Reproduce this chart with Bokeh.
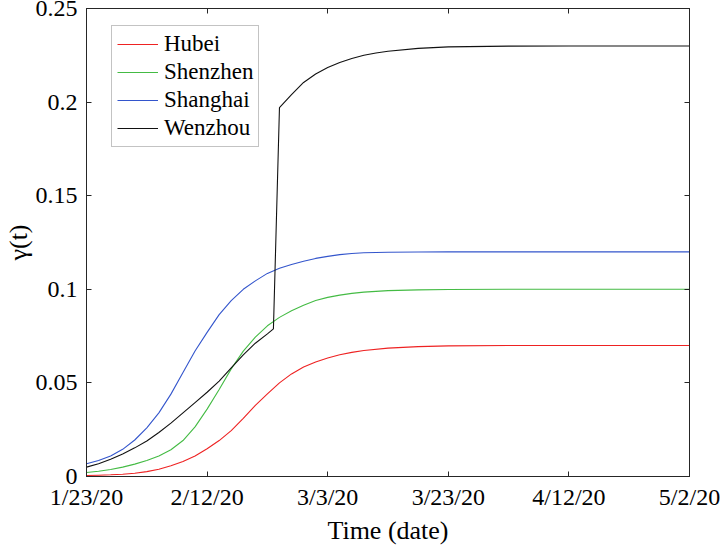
from bokeh.plotting import figure
from bokeh.models import LinearAxis, FixedTicker, Range1d
from bokeh.embed import file_html
from bokeh.resources import INLINE

# ---- data (days since 1/23/20) ----
days = [0, 2, 4, 6, 8, 10, 12, 14, 16, 18, 20, 22, 24, 26, 28, 30, 32, 34, 36,
        38, 40, 42, 44, 46, 50, 55, 60, 70, 80, 90, 100]
hubei = [0.0005, 0.0007, 0.0009, 0.0012, 0.0017, 0.0026, 0.0039, 0.0057, 0.0080,
         0.0110, 0.0148, 0.0192, 0.0245, 0.0310, 0.0380, 0.0441, 0.0500, 0.0548,
         0.0585, 0.0612, 0.0633, 0.0650, 0.0663, 0.0673, 0.0686, 0.0694, 0.0698,
         0.0700, 0.0700, 0.0700, 0.0700]
shenzhen = [0.0021, 0.0028, 0.0037, 0.0050, 0.0066, 0.0085, 0.0110, 0.0143, 0.0192,
            0.0265, 0.0360, 0.0465, 0.0575, 0.0670, 0.0745, 0.0805, 0.0850, 0.0885,
            0.0915, 0.0940, 0.0957, 0.0969, 0.0978, 0.0985, 0.0993, 0.0997, 0.0999,
            0.1000, 0.1000, 0.1000, 0.1000]
shanghai = [0.0068, 0.0085, 0.0110, 0.0145, 0.0195, 0.0260, 0.0340, 0.0440, 0.0555,
            0.0670, 0.0770, 0.0865, 0.0940, 0.1000, 0.1045, 0.1085, 0.1112, 0.1132,
            0.1150, 0.1165, 0.1176, 0.1185, 0.1191, 0.1195, 0.1198, 0.1199, 0.1200,
            0.1200, 0.1200, 0.1200, 0.1200]
wz_days = [0, 2, 4, 6, 8, 10, 12, 14, 16, 18, 20, 22, 24, 26, 28, 30, 31, 32, 34,
           36, 38, 40, 42, 44, 46, 48, 50, 55, 60, 70, 80, 90, 100]
wenzhou = [0.0050, 0.0068, 0.0092, 0.0120, 0.0153, 0.0190, 0.0235, 0.0285, 0.0340,
           0.0395, 0.0450, 0.0510, 0.0580, 0.0650, 0.0712, 0.0762, 0.0789, 0.1970,
           0.2040, 0.2105, 0.2150, 0.2185, 0.2212, 0.2233, 0.2250, 0.2262, 0.2272,
           0.2287, 0.2295, 0.2299, 0.2300, 0.2300, 0.2300]

x_ticks = [0, 20, 40, 60, 80, 100]
x_tick_labels = ["1/23/20", "2/12/20", "3/3/20", "3/23/20", "4/12/20", "5/2/20"]
y_ticks = [0, 0.05, 0.1, 0.15, 0.2, 0.25]
y_tick_labels = ["0", "0.05", "0.1", "0.15", "0.2", "0.25"]
x_title = "Time (date)"
y_title = "γ(t)"

FONT = "Liberation Serif"
AX = "#262626"

p = figure(frame_width=603, frame_height=468, output_backend="svg",
           toolbar_location=None,
           x_range=Range1d(0, 100), y_range=Range1d(0, 0.25),
           min_border_left=77, min_border_right=32, min_border_top=8,
           min_border_bottom=65)
p.xgrid.visible = False
p.ygrid.visible = False
p.outline_line_color = AX
p.background_fill_color = "white"
p.border_fill_color = "white"


def style(ax, ticks, labels=None):
    ax.ticker = FixedTicker(ticks=ticks)
    ax.axis_line_color = AX
    ax.major_tick_line_color = AX
    ax.major_tick_in = 5
    ax.major_tick_out = 0
    ax.minor_tick_line_color = None
    if labels is None:
        ax.major_label_text_font_size = "1px"
        ax.major_label_text_color = None
        ax.major_label_standoff = 0
    else:
        ax.major_label_overrides = {t: l for t, l in zip(ticks, labels)}
        ax.major_label_text_font = FONT
        ax.major_label_text_font_size = "24px"
        ax.major_label_text_color = "black"
        ax.axis_label_text_font = FONT
        ax.axis_label_text_font_size = "26px"
        ax.axis_label_text_font_style = "normal"
        ax.axis_label_text_color = "black"


xa = p.xaxis[0]
style(xa, x_ticks, x_tick_labels)
xa.axis_label = x_title
xa.major_label_standoff = 7
xa.axis_label_standoff = 3

ya = p.yaxis[0]
style(ya, y_ticks, y_tick_labels)
ya.axis_label = y_title
ya.major_label_standoff = 9
ya.axis_label_standoff = 0

top = LinearAxis()
style(top, x_ticks)
p.add_layout(top, "above")
right = LinearAxis()
style(right, y_ticks)
p.add_layout(right, "right")

p.line(days, hubei, line_color="#ee2222", line_width=1.1, legend_label="Hubei")
p.line(days, shenzhen, line_color="#44bb44", line_width=1.1, legend_label="Shenzhen")
p.line(days, shanghai, line_color="#3355cc", line_width=1.1, legend_label="Shanghai")
p.line(wz_days, wenzhou, line_color="#111111", line_width=1.1, legend_label="Wenzhou")

lg = p.legend[0]
lg.location = (25, 329)
lg.label_text_font = FONT
lg.label_text_font_size = "23px"
lg.label_text_color = "black"
lg.border_line_color = "#888888"
lg.border_line_width = 1
lg.background_fill_color = "white"
lg.background_fill_alpha = 1
lg.glyph_width = 41
lg.glyph_height = 20
lg.label_height = 20
lg.spacing = 2
lg.padding = 5
lg.label_standoff = 6
lg.margin = 0

open("out.html", "w").write(file_html(p, INLINE))
